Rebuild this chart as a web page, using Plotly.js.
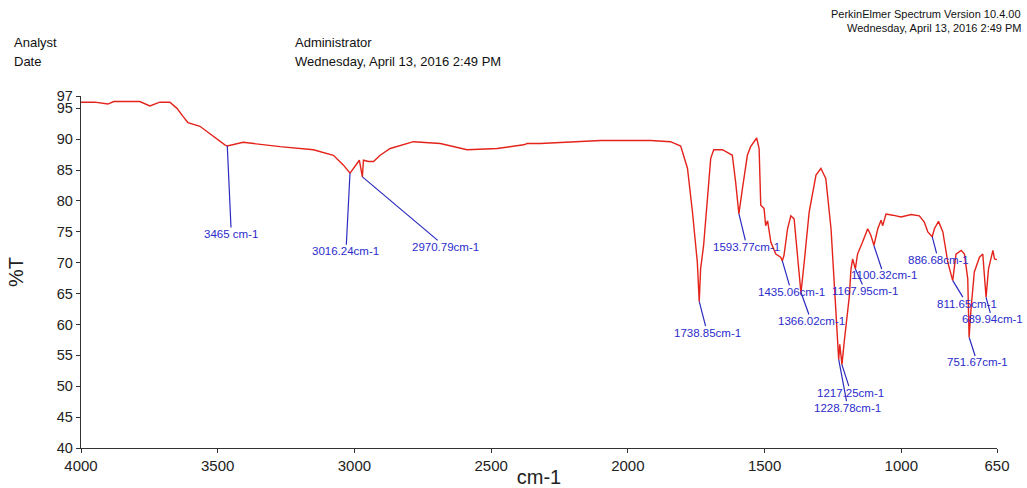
<!DOCTYPE html>
<html>
<head>
<meta charset="utf-8">
<script src="https://cdn.plot.ly/plotly-3.0.1.min.js"></script>
<style>html,body{margin:0;padding:0;background:#fff;}#chart{width:1027px;height:488px;}</style>
</head>
<body>
<div id="chart"></div>
<script>
// Spectrum (wavenumber cm-1, %T)
const wavenumber = [4000,3950,3902,3880,3869,3785,3748,3712,3675,3649,3627,3609,3565,3518,3474,3465,3455,3407,3272,3150,3077,3040,3016,2994,2982,2971,2967,2949,2930,2906,2869,2784,2686,2588,2478,2381,2368,2320,2100,1917,1844,1807,1782,1764,1746,1739,1734,1723,1709,1697,1686,1654,1630,1618,1606,1594,1581,1563,1551,1538,1529,1520,1514,1502,1496,1489,1477,1459,1441,1435,1429,1416,1404,1392,1379,1367,1355,1337,1312,1294,1276,1257,1239,1229,1225,1217,1209,1190,1184,1178,1168,1160,1142,1123,1111,1100,1086,1074,1068,1056,1031,1001,964,934,916,903,887,879,864,848,830,812,800,781,769,757,752,745,733,714,702,690,681,671,665,659,650];
const transmittance = [96.0,96.0,95.7,96.1,96.1,96.1,95.4,96.0,96.0,95.0,93.7,92.7,92.1,90.5,89.1,88.9,89.0,89.5,88.8,88.3,87.4,85.8,84.5,85.8,86.6,83.9,86.6,86.4,86.4,87.4,88.5,89.6,89.3,88.3,88.5,89.1,89.3,89.3,89.8,89.8,89.6,88.9,85.3,78.3,70.1,63.7,69.0,72.8,80.9,86.9,88.3,88.3,87.7,87.4,83.1,77.9,82.0,87.4,88.8,89.6,90.2,88.5,79.3,78.8,76.0,76.8,73.3,71.4,70.9,70.3,71.2,75.5,77.6,77.1,70.1,65.1,70.1,78.2,84.2,85.3,83.6,75.5,62.0,54.3,56.8,53.5,57.1,64.6,69.0,70.6,69.0,71.4,73.3,75.5,74.4,72.8,75.5,76.9,76.0,77.9,77.7,77.4,77.8,77.6,76.6,75.0,74.2,75.5,76.7,75.0,70.1,67.1,71.4,72.0,71.4,67.4,57.9,62.5,68.5,70.9,71.4,64.4,69.0,70.9,72.0,70.6,70.5];

// Peak labels
const peakWn = [3465,3016.24,2970.79,1738.85,1593.77,1435.06,1366.02,1217.25,1228.78,1167.95,1100.32,886.68,811.65,751.67,689.94];
const peakT = [88.9,84.5,83.9,63.7,77.9,70.3,65.1,53.5,54.3,69.0,72.8,74.2,67.1,57.9,64.4];
const peakLabels = ["3465 cm-1","3016.24cm-1","2970.79cm-1","1738.85cm-1","1593.77cm-1","1435.06cm-1","1366.02cm-1","1217.25cm-1","1228.78cm-1","1167.95cm-1","1100.32cm-1","886.68cm-1","811.65cm-1","751.67cm-1","689.94cm-1"];
const labelDx = [4,-4,83,8,8,9,10,9,9,10,10,6,14,8,6];
const labelDy = [88,78,70,31,33,31,28,28,48,22,30,23,23,25,22];

// Axis ticks
const xTicks = [4000,3500,3000,2500,2000,1500,1000,650];
const yTicks = [40,45,50,55,60,65,70,75,80,85,90,95,97];

// Header texts
const headerLeft = ["Analyst","Date"];
const headerMid = ["Administrator","Wednesday, April 13, 2016 2:49 PM"];
const headerRight = ["PerkinElmer Spectrum Version 10.4.00","Wednesday, April 13, 2016 2:49 PM"];

const FONT = "Liberation Sans, Arial, Helvetica, sans-serif";
const BLUE = "#2b2bcc";

const annotations = [];
peakWn.forEach((w, i) => {
  annotations.push({
    x: w, y: peakT[i], xref: "x", yref: "y",
    text: peakLabels[i], showarrow: true, arrowhead: 0, arrowwidth: 1.2,
    arrowcolor: "#2a2ac0", standoff: 0, ax: labelDx[i], ay: labelDy[i],
    font: {family: FONT, size: 11.5, color: BLUE}, borderpad: 0
  });
});
const hy = [1.1506, 1.0966];
headerLeft.forEach((t, i) => annotations.push({text: t, xref: "paper", yref: "paper", x: -0.0757, y: hy[i], xanchor: "left", yanchor: "middle", showarrow: false, font: {family: FONT, size: 13, color: "#111"}}));
headerMid.forEach((t, i) => annotations.push({text: t, xref: "paper", yref: "paper", x: 0.2313, y: hy[i], xanchor: "left", yanchor: "middle", showarrow: false, font: {family: FONT, size: 13, color: "#111"}}));
const ry = [1.233, 1.193];
headerRight.forEach((t, i) => annotations.push({text: t, xref: "paper", yref: "paper", x: 1.0287, y: ry[i], xanchor: "right", yanchor: "middle", showarrow: false, font: {family: FONT, size: 11, color: "#111"}}));

const trace = {
  x: wavenumber, y: transmittance, type: "scatter", mode: "lines",
  line: {color: "#e4231b", width: 1.4}, hoverinfo: "skip"
};

const layout = {
  width: 1027, height: 488,
  margin: {l: 81, r: 30, t: 96, b: 40, pad: 0},
  paper_bgcolor: "#fff", plot_bgcolor: "#fff",
  showlegend: false,
  font: {family: FONT, color: "#222"},
  xaxis: {
    range: [4000, 650], tickvals: xTicks, ticktext: xTicks.map(String),
    showgrid: false, zeroline: false, showline: true, linecolor: "#333", linewidth: 1.2,
    ticks: "outside", ticklen: 4, tickcolor: "#333", tickfont: {family: FONT, size: 15, color: "#222"},
    title: {text: "cm-1", font: {family: FONT, size: 20, color: "#222"}, standoff: 5},
    automargin: false, mirror: false
  },
  yaxis: {
    range: [40, 97], tickvals: yTicks, ticktext: yTicks.map(String),
    showgrid: false, zeroline: false, showline: true, linecolor: "#333", linewidth: 1.2,
    ticks: "outside", ticklen: 4, tickcolor: "#333", tickfont: {family: FONT, size: 14.5, color: "#222"},
    title: {text: "%T", font: {family: FONT, size: 20, color: "#222"}, standoff: 27},
    automargin: false, mirror: false
  },
  annotations: annotations
};

Plotly.newPlot("chart", [trace], layout, {staticPlot: true, displayModeBar: false});
</script>
</body>
</html>
